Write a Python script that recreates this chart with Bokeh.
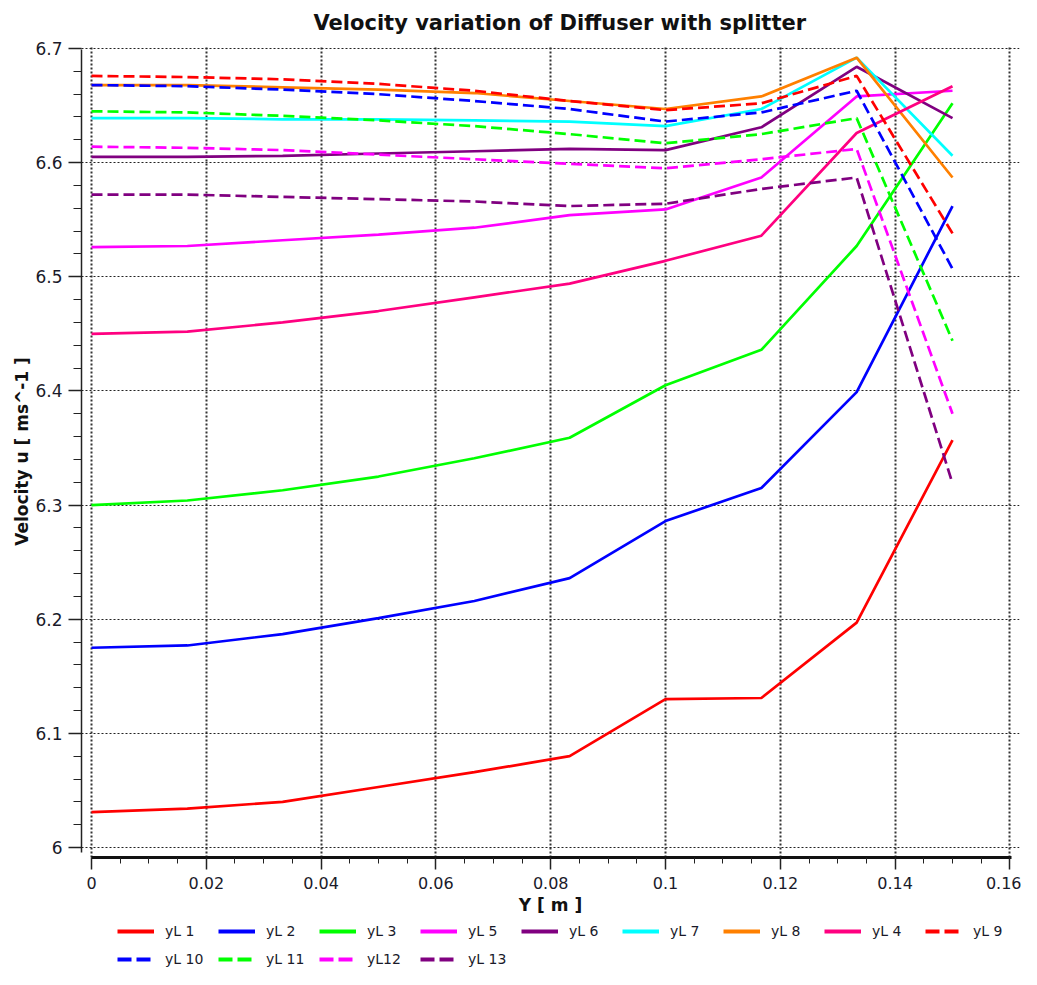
from bokeh.plotting import figure
from bokeh.models import Legend, LegendItem, Range1d, FixedTicker
from bokeh.layouts import column
from bokeh.embed import file_html
from bokeh.resources import INLINE

# ---------------- data ----------------
x_vals = [0.0, 0.0167, 0.0333, 0.05, 0.0667, 0.0833, 0.1, 0.1167, 0.1333, 0.15]

yL1 = [6.031, 6.034, 6.040, 6.053, 6.066, 6.080, 6.130, 6.131, 6.197, 6.357]
yL2 = [6.175, 6.177, 6.187, 6.201, 6.216, 6.236, 6.286, 6.315, 6.399, 6.562]
yL3 = [6.300, 6.304, 6.313, 6.325, 6.341, 6.359, 6.405, 6.436, 6.527, 6.652]
yL5 = [6.526, 6.527, 6.532, 6.537, 6.543, 6.554, 6.559, 6.587, 6.658, 6.663]
yL6 = [6.605, 6.605, 6.606, 6.608, 6.610, 6.612, 6.611, 6.631, 6.684, 6.639]
yL7 = [6.639, 6.639, 6.638, 6.638, 6.637, 6.636, 6.632, 6.647, 6.692, 6.606]
yL8 = [6.668, 6.668, 6.666, 6.664, 6.661, 6.654, 6.647, 6.658, 6.692, 6.587]
yL4 = [6.450, 6.452, 6.460, 6.470, 6.482, 6.494, 6.514, 6.536, 6.626, 6.667]
yL9 = [6.676, 6.675, 6.673, 6.669, 6.663, 6.654, 6.646, 6.652, 6.676, 6.538]
yL10 = [6.668, 6.667, 6.664, 6.660, 6.654, 6.647, 6.636, 6.644, 6.663, 6.507]
yL11 = [6.645, 6.644, 6.641, 6.637, 6.632, 6.625, 6.617, 6.625, 6.639, 6.444]
yL12 = [6.614, 6.613, 6.611, 6.607, 6.603, 6.599, 6.595, 6.603, 6.612, 6.380]
yL13 = [6.572, 6.572, 6.570, 6.568, 6.566, 6.562, 6.564, 6.577, 6.587, 6.319]

series_names = ["yL 1", "yL 2", "yL 3", "yL 5", "yL 6", "yL 7", "yL 8", "yL 4",
                "yL 9", "yL 10", "yL 11", "yL12", "yL 13"]
series_values = [yL1, yL2, yL3, yL5, yL6, yL7, yL8, yL4,
                 yL9, yL10, yL11, yL12, yL13]
series_colors = ["#FF0000", "#0000FF", "#00FF00", "#FF00FF", "#800080", "#00FFFF",
                 "#FF8000", "#FF0080", "#FF0000", "#0000FF", "#00FF00", "#FF00FF", "#800080"]
series_dashed = [False] * 8 + [True] * 5

x_ticks = [0.0, 0.02, 0.04, 0.06, 0.08, 0.1, 0.12, 0.14, 0.16]
x_tick_labels = ["0", "0.02", "0.04", "0.06", "0.08", "0.1", "0.12", "0.14", "0.16"]
y_ticks = [6.0, 6.1, 6.2, 6.3, 6.4, 6.5, 6.6, 6.7]
y_tick_labels = ["6", "6.1", "6.2", "6.3", "6.4", "6.5", "6.6", "6.7"]

FONT = "DejaVu Sans"
W = 1021
H_MAIN = 921
H_LEG = 48

# ---------------- main chart ----------------
p = figure(width=W, height=H_MAIN, output_backend="svg", toolbar_location=None,
           x_range=Range1d(-0.00174, 0.16167), y_range=Range1d(5.99124, 6.70264),
           min_border_left=81, min_border_right=2, min_border_top=45, min_border_bottom=64,
           title="Velocity variation of Diffuser with splitter")

p.title.align = "left"
p.title.offset = 232
p.title.vertical_align = "middle"
p.title.standoff = 19
p.title.text_font = FONT
p.title.text_font_size = "21px"
p.title.text_font_style = "bold"
p.title.text_color = "#111111"
p.outline_line_color = None
p.background_fill_color = "white"

for vals, col, dashed in zip(series_values, series_colors, series_dashed):
    p.line(x_vals, vals, line_color=col, line_width=2.7,
           line_dash="11 5" if dashed else "solid")

# grids
p.xgrid.ticker = FixedTicker(ticks=x_ticks)
p.ygrid.ticker = FixedTicker(ticks=y_ticks)
p.xgrid.grid_line_color = "#333333"
p.xgrid.grid_line_width = 2
p.xgrid.grid_line_dash = "2 2"
p.ygrid.grid_line_color = "#222222"
p.ygrid.grid_line_width = 1.2
p.ygrid.grid_line_dash = "2 2"

# axes
xminor = [i * 0.005 for i in range(33)]
p.xaxis.ticker = FixedTicker(ticks=x_ticks, minor_ticks=xminor)
p.xaxis.major_label_overrides = dict(zip(x_ticks, x_tick_labels))
p.xaxis.bounds = (0.0, 0.1602)
p.xaxis.axis_line_width = 3
p.xaxis.axis_line_color = "#111111"
p.xaxis.major_tick_in = 0
p.xaxis.major_tick_out = 12
p.xaxis.minor_tick_in = 0
p.xaxis.minor_tick_out = 6
p.xaxis.major_label_standoff = 7
p.xaxis.major_label_text_font_size = "16px"
p.xaxis.axis_label = "Y [ m ]"
p.xaxis.axis_label_standoff = 3

yminor = [6.0 + i * 0.02 for i in range(36)]
p.yaxis.ticker = FixedTicker(ticks=y_ticks, minor_ticks=yminor)
p.yaxis.major_label_overrides = dict(zip(y_ticks, y_tick_labels))
p.yaxis.bounds = (5.9956, 6.6991)
p.yaxis.axis_line_width = 1.5
p.yaxis.axis_line_color = "#222222"
p.yaxis.major_tick_in = 0
p.yaxis.major_tick_out = 13
p.yaxis.minor_tick_in = 0
p.yaxis.minor_tick_out = 8
p.yaxis.major_label_standoff = 6
p.yaxis.major_label_text_font_size = "17px"
p.yaxis.axis_label = "Velocity u [ ms^-1 ]"
p.yaxis.axis_label_standoff = 0

for ax in (p.xaxis, p.yaxis):
    ax.major_tick_line_color = "#222222"
    ax.minor_tick_line_color = "#222222"
    ax.major_tick_line_width = 1.5
    ax.major_label_text_font = FONT
    ax.major_label_text_color = "#1a1a2a"
    ax.axis_label_text_font = FONT
    ax.axis_label_text_font_size = "17px"
    ax.axis_label_text_font_style = "bold"
    ax.axis_label_text_color = "#111111"

# ---------------- legend strip (series drawn outside its view, used for the key) ----------------
pl = figure(width=W, height=H_LEG, output_backend="svg", toolbar_location=None,
            x_range=Range1d(0, 1), y_range=Range1d(0, 1),
            x_axis_location=None, y_axis_location=None,
            min_border_left=0, min_border_right=0, min_border_top=0, min_border_bottom=0)
pl.outline_line_color = None
pl.grid.visible = False

key_items = []
for name, vals, col, dashed in zip(series_names, series_values, series_colors, series_dashed):
    r = pl.line(x_vals, vals, line_color=col, line_width=4,
                line_dash="14 5" if dashed else "solid")
    key_items.append(LegendItem(label=name, renderers=[r]))


def make_legend(items, loc):
    return Legend(items=items, location=loc, orientation="horizontal",
                  glyph_width=37, glyph_height=20, label_standoff=11, label_width=40,
                  spacing=13, padding=0, margin=0,
                  label_text_font=FONT, label_text_font_size="14px",
                  label_text_color="#1a1a2a",
                  background_fill_alpha=0, border_line_alpha=0)


pl.add_layout(make_legend(key_items[:9], (36, 28)), "center")
pl.add_layout(make_legend(key_items[9:], (36, 0)), "center")

open("out.html", "w").write(file_html(column(p, pl, spacing=0), INLINE))
